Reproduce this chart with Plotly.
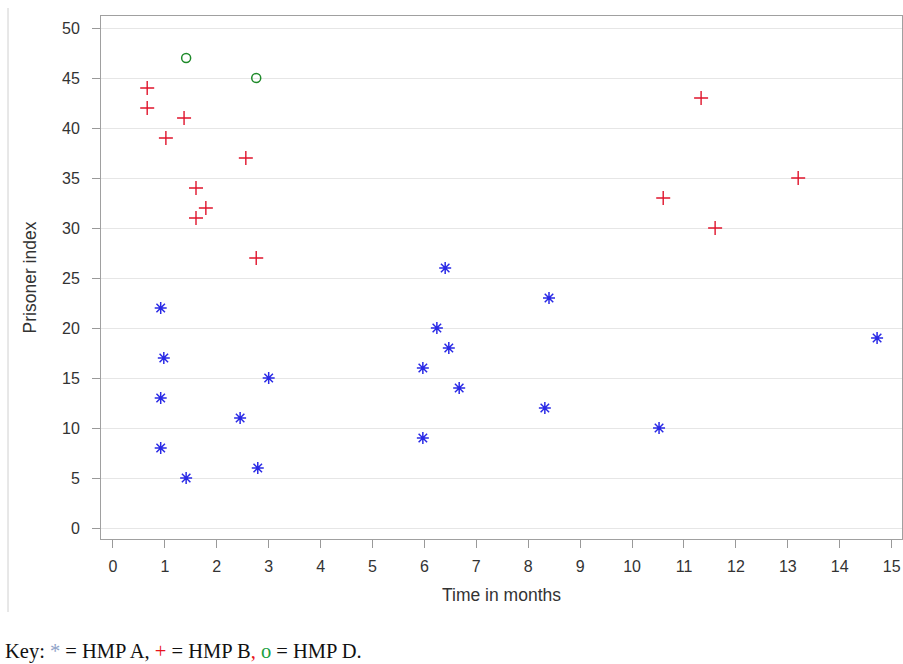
import plotly.graph_objects as go

# HMP A (blue asterisks)
a_time = [0.92, 0.98, 0.92, 0.92, 1.41, 2.45, 2.79, 3.00, 5.97, 5.97, 6.24, 6.40, 6.47, 6.67, 8.32, 8.40, 10.52, 14.72]
a_index = [22, 17, 13, 8, 5, 11, 6, 15, 9, 16, 20, 26, 18, 14, 12, 23, 10, 19]

# HMP B (red crosses)
b_time = [0.66, 0.66, 1.37, 1.02, 2.56, 1.60, 1.79, 1.60, 2.76, 10.60, 11.33, 11.60, 13.20]
b_index = [44, 42, 41, 39, 37, 34, 32, 31, 27, 33, 43, 30, 35]

# HMP D (green circles)
d_time = [1.41, 2.76]
d_index = [47, 45]

x_ticks = list(range(0, 16))
y_ticks = list(range(0, 51, 5))

fig = go.Figure()
fig.add_trace(go.Scatter(x=a_time, y=a_index, mode="markers", name="HMP A",
                         marker=dict(symbol="asterisk-open", size=10, color="#2a2ae6",
                                     line=dict(color="#2a2ae6", width=1.5))))
fig.add_trace(go.Scatter(x=b_time, y=b_index, mode="markers", name="HMP B",
                         marker=dict(symbol="cross-thin-open", size=10, color="#e0142c",
                                     line=dict(color="#e0142c", width=1.4))))
fig.add_trace(go.Scatter(x=d_time, y=d_index, mode="markers", name="HMP D",
                         marker=dict(symbol="circle-open", size=9, color="#1e8a2a",
                                     line=dict(color="#1e8a2a", width=1.5))))

axis_font = dict(family="Liberation Sans, Arial, sans-serif", size=16, color="#333333")
title_font = dict(family="Liberation Sans, Arial, sans-serif", size=17.5, color="#333333")

fig.update_layout(
    width=903, height=664,
    margin=dict(l=101, r=1, t=16, b=125),
    paper_bgcolor="white", plot_bgcolor="white",
    showlegend=False,
    font=axis_font,
    xaxis=dict(range=[-0.23, 15.2], tickvals=x_ticks, ticks="outside", ticklen=8,
               tickcolor="#999999", showgrid=False, zeroline=False, automargin=False,
               showline=True, linecolor="#a0a0a0", mirror=True, linewidth=1,
               title=dict(text="Time in months", font=title_font, standoff=14),
               tickfont=axis_font, ticklabelstandoff=5),
    yaxis=dict(range=[-1.1, 51.2], tickvals=y_ticks, ticks="outside", ticklen=8,
               tickcolor="#999999", showgrid=True, gridcolor="#e6e6e6", gridwidth=1,
               zeroline=False, showline=True, linecolor="#a0a0a0", mirror=True, linewidth=1,
               automargin=False,
               title=dict(text="Prisoner index", font=title_font, standoff=20),
               tickfont=axis_font, ticklabelstandoff=9),
)

# left vertical rule of the page
fig.add_shape(type="line", xref="paper", yref="paper",
              x0=(8 - 101) / 801, x1=(8 - 101) / 801,
              y0=(539 - 8) / 523, y1=(539 - 612) / 523,
              line=dict(color="#d0d0d0", width=1))

key_text = ("Key: <span style='color:#8fa3c8'>*</span> = HMP A, "
            "<span style='color:#e8141c'>+</span> = HMP B<span style='color:#e8141c'>,</span> "
            "<span style='color:#18a040'>o</span> = HMP D.")
fig.add_annotation(text=key_text, xref="paper", yref="paper",
                   x=(3 - 101) / 801, y=(539 - 651) / 523,
                   xanchor="left", yanchor="middle", showarrow=False,
                   font=dict(family="Liberation Serif, Times New Roman, serif", size=20.5, color="#111111"))

fig.write_html("out.html", config={"displayModeBar": False},
               post_script="document.body.style.margin='0px';")
